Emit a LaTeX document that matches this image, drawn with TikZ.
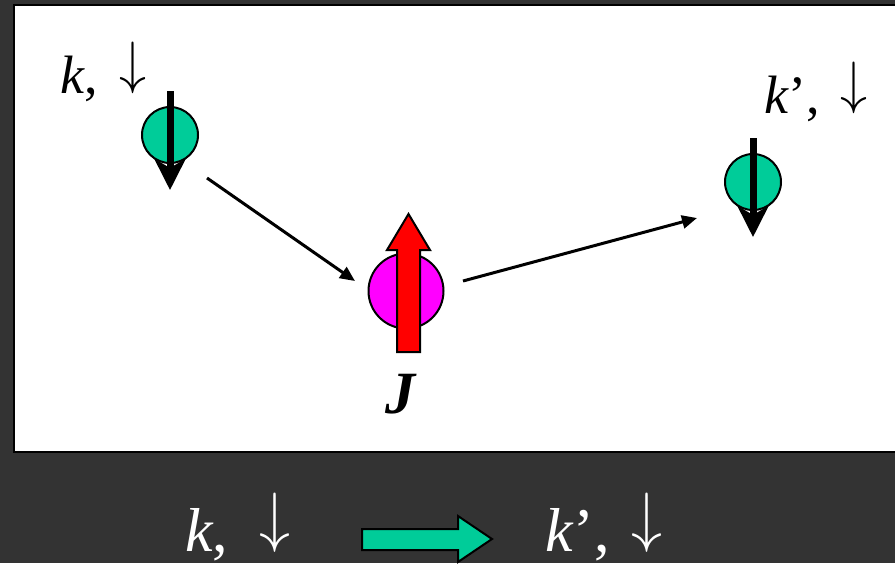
\RequirePackage{fix-cm}
\documentclass[tikz,border=0pt]{standalone}
\usepackage{fontspec}
\setmainfont{Liberation Serif}
\usetikzlibrary{arrows.meta}
\definecolor{bgdark}{HTML}{333333}
\definecolor{spingreen}{HTML}{00CC99}
\definecolor{impmag}{HTML}{FF00FF}
\newcommand\spindn{\raisebox{0.19em}{\scalebox{1}[1.08]{$\downarrow$}}}
\tikzset{
  lbl/.style={inner sep=0pt, anchor=base west, font=\fontsize{54}{60}\selectfont},
  lblbig/.style={inner sep=0pt, anchor=base west, text=white, font=\fontsize{62}{70}\selectfont},
  ball/.style={circle, draw=black, line width=2pt, fill=spingreen, minimum size=56pt, inner sep=0pt},
  spin/.style={line width=7pt, -{Stealth[length=31pt,width=31pt,inset=9pt]}},
  hop/.style={line width=3pt, -{Triangle[length=15pt,width=13pt]}},
  block/.style={draw=black, line width=2pt, line join=miter}
}
\begin{document}
\begin{tikzpicture}[x=1pt,y=-1pt]
\useasboundingbox (0,0) rectangle (895,563);
\fill[bgdark] (0,0) rectangle (895,563);
\draw[fill=white, draw=black, line width=2.5pt] (14,5) rectangle (902,452);
% incoming electron
\node[ball] (e1) at (170,135) {};
\coordinate (e1top) at (170,91);
\coordinate (e1bot) at (170,190);
\draw[spin] (e1top) -- (e1bot);
\node[lbl] (l1) at (60,93) {\textit{k}, \hspace{0.15em}\spindn};
% impurity
\node[circle, draw=black, line width=2pt, fill=impmag, minimum size=75pt, inner sep=0pt] (imp) at (406,291) {};
\draw[block, fill=red] (397,352) -- (397,250) -- (387,250) -- (408.5,214) -- (430,250) -- (420,250) -- (420,352) -- cycle;
\node[inner sep=0pt, font=\fontsize{60}{64}\selectfont\bfseries\itshape] (J) at (400,394) {J};
% outgoing electron
\node[ball] (e2) at (753,182) {};
\coordinate (e2top) at (753,138);
\coordinate (e2bot) at (753,237);
\draw[spin] (e2top) -- (e2bot);
\node[lbl] (l2) at (764,113) {\textit{k}’, \hspace{0.12em}\spindn};
% hops
\coordinate (h1s) at (207,178);
\coordinate (h1e) at (355,281);
\draw[hop] (h1s) -- (h1e);
\coordinate (h2s) at (463,281);
\coordinate (h2e) at (697,218);
\draw[hop] (h2s) -- (h2e);
% bottom line
\node[lblbig] (b1) at (185,551) {\textit{k}, \hspace{0.25em}\spindn};
\draw[block, fill=spingreen] (362,529) -- (458,529) -- (458,516) -- (492,539) -- (458,562) -- (458,550) -- (362,550) -- cycle;
\node[lblbig] (b2) at (545,551) {\textit{k}’, \hspace{0.1em}\spindn};
\end{tikzpicture}
\end{document}
